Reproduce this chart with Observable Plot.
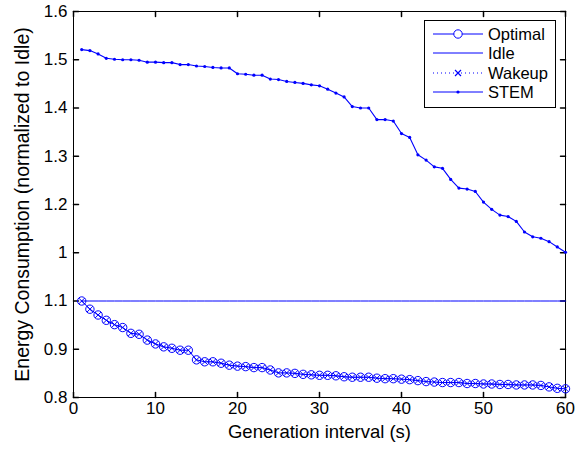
<!DOCTYPE html>
<html>
<head>
<meta charset="utf-8">
<script src="https://cdn.jsdelivr.net/npm/d3@7"></script>
<script src="https://cdn.jsdelivr.net/npm/@observablehq/plot@0.6"></script>
<style>
  html, body { margin: 0; padding: 0; background: #fff; }
  #wrap { position: relative; width: 586px; height: 450px; font-family: "Liberation Sans", Arial, sans-serif; }
  #legend { position: absolute; left: 424px; top: 20px; }
</style>
</head>
<body>
<div id="wrap"></div>
<script>
const genInterval = [1,2,3,4,5,6,7,8,9,10,11,12,13,14,15,16,17,18,19,20,21,22,23,24,25,26,27,28,29,30,
  31,32,33,34,35,36,37,38,39,40,41,42,43,44,45,46,47,48,49,50,51,52,53,54,55,56,57,58,59,60];

const optimal = [1.000,0.983,0.971,0.960,0.951,0.945,0.933,0.931,0.919,0.911,
  0.905,0.902,0.898,0.898,0.878,0.874,0.874,0.871,0.867,0.865,
  0.864,0.862,0.862,0.857,0.851,0.851,0.850,0.848,0.847,0.846,
  0.846,0.845,0.843,0.842,0.842,0.842,0.840,0.839,0.839,0.838,
  0.837,0.835,0.833,0.832,0.831,0.831,0.831,0.829,0.829,0.828,
  0.828,0.827,0.827,0.826,0.826,0.826,0.825,0.822,0.819,0.818];

const wakeup = [1.000,0.983,0.971,0.960,0.951,0.945,0.933,0.931,0.919,0.911,
  0.905,0.902,0.898,0.898,0.878,0.874,0.874,0.871,0.867,0.865,
  0.864,0.862,0.862,0.857,0.851,0.851,0.850,0.848,0.847,0.846,
  0.846,0.845,0.843,0.842,0.842,0.842,0.840,0.839,0.839,0.838,
  0.837,0.835,0.833,0.832,0.831,0.831,0.831,0.829,0.829,0.828,
  0.828,0.827,0.827,0.826,0.826,0.826,0.825,0.822,0.819,0.818];

const idle = [1,1,1,1,1,1,1,1,1,1, 1,1,1,1,1,1,1,1,1,1, 1,1,1,1,1,1,1,1,1,1,
  1,1,1,1,1,1,1,1,1,1, 1,1,1,1,1,1,1,1,1,1, 1,1,1,1,1,1,1,1,1,1];

const stem = [1.521,1.519,1.512,1.503,1.501,1.500,1.500,1.499,1.495,1.495,
  1.494,1.494,1.490,1.490,1.487,1.486,1.484,1.483,1.483,1.471,
  1.470,1.468,1.468,1.460,1.459,1.455,1.453,1.451,1.448,1.446,
  1.439,1.431,1.423,1.403,1.400,1.400,1.376,1.376,1.373,1.347,
  1.339,1.303,1.292,1.278,1.275,1.252,1.234,1.232,1.227,1.205,
  1.190,1.178,1.175,1.165,1.143,1.133,1.130,1.123,1.112,1.101];

const xTicks = [0,10,20,30,40,50,60];
const xTickLabels = ["0","10","20","30","40","50","60"];
const yTicks = [0.8,0.9,1.0,1.1,1.2,1.3,1.4,1.5,1.6];
const yTickLabels = ["0.8","0.9","1.1","1","1.2","1.3","1.4","1.5","1.6"];

const seriesNames = ["Optimal","Idle","Wakeup","STEM"];
const xLabel = "Generation interval (s)";
const yLabel = "Energy Consumption (normalized to Idle)";

const blue = "#0000ff";
const font = "'Liberation Sans', Arial, sans-serif";
const rows = (ys) => genInterval.map((x, i) => ({x, y: ys[i]}));
const tickShape = {draw(ctx, l) { ctx.moveTo(0, 0); ctx.lineTo(0, -l); }};

const chart = Plot.plot({
  width: 586,
  height: 450,
  marginLeft: 73,
  marginRight: 21,
  marginTop: 11,
  marginBottom: 53,
  style: {fontFamily: font, fontSize: "17px", color: "#000", background: "#fff"},
  x: {domain: [0, 60]},
  y: {domain: [0.8, 1.6]},
  marks: [
    Plot.frame({stroke: "#000", strokeWidth: 1}),
    // inward ticks on all four sides
    Plot.vector(xTicks, {x: d => d, y: 0.8, length: 5, rotate: 0, anchor: "start", shape: tickShape, stroke: "#000"}),
    Plot.vector(xTicks, {x: d => d, y: 1.6, length: 5, rotate: 180, anchor: "start", shape: tickShape, stroke: "#000"}),
    Plot.vector(yTicks, {x: 0, y: d => d, length: 5, rotate: 90, anchor: "start", shape: tickShape, stroke: "#000"}),
    Plot.vector(yTicks, {x: 60, y: d => d, length: 5, rotate: -90, anchor: "start", shape: tickShape, stroke: "#000"}),
    Plot.axisX(xTicks, {tickSize: 0, tickPadding: 4, tickFormat: (d, i) => xTickLabels[i], fontSize: 17, label: null}),
    Plot.axisY(yTicks, {tickSize: 0, tickPadding: 6, tickFormat: (d, i) => yTickLabels[i], fontSize: 17, label: null}),
    Plot.text([xLabel], {text: d => d, frameAnchor: "bottom", dy: 40, fontSize: 18.5, fill: "#000"}),
    Plot.text([yLabel], {text: d => d, frameAnchor: "left", textAnchor: "middle", rotate: -90, dx: -51, fontSize: 19.5, fill: "#000"}),
    // Idle
    Plot.line(rows(idle), {x: "x", y: "y", stroke: blue, strokeWidth: 1}),
    // STEM
    Plot.line(rows(stem), {x: "x", y: "y", stroke: blue, strokeWidth: 1.1}),
    Plot.dot(rows(stem), {x: "x", y: "y", r: 1.6, fill: blue, stroke: "none"}),
    // Wakeup (dotted, x markers)
    Plot.line(rows(wakeup), {x: "x", y: "y", stroke: blue, strokeWidth: 1, strokeDasharray: "1,3"}),
    // Optimal (solid, circles)
    Plot.line(rows(optimal), {x: "x", y: "y", stroke: blue, strokeWidth: 1}),
    Plot.dot(rows(optimal), {x: "x", y: "y", r: 4.2, stroke: blue, fill: "none", strokeWidth: 1}),
    Plot.dot(rows(wakeup), {x: "x", y: "y", r: 2.8, symbol: "times", stroke: blue, strokeWidth: 1})
  ]
});

const wrap = document.getElementById("wrap");
wrap.appendChild(chart);

// Legend
const lw = 131, lh = 87;
const leg = d3.select(wrap).append("svg").attr("id", "legend").attr("width", lw + 1).attr("height", lh + 1);
leg.append("rect").attr("x", 0.5).attr("y", 0.5).attr("width", lw).attr("height", lh)
  .attr("fill", "#fff").attr("stroke", "#000").attr("stroke-width", 1);
const rowY = [14, 33, 53, 72];
seriesNames.forEach((name, i) => {
  const g = leg.append("g").attr("transform", `translate(0,${rowY[i]})`);
  const ln = g.append("line").attr("x1", 9).attr("x2", 59).attr("y1", 0).attr("y2", 0)
    .attr("stroke", blue).attr("stroke-width", 1);
  if (name === "Wakeup") ln.attr("stroke-dasharray", "1,3");
  if (name === "Optimal") g.append("circle").attr("cx", 34).attr("cy", 0).attr("r", 4.2).attr("fill", "#fff").attr("stroke", blue);
  if (name === "Wakeup") g.append("path").attr("d", "M31,-3L37,3M31,3L37,-3").attr("stroke", blue).attr("stroke-width", 1.2);
  if (name === "STEM") g.append("circle").attr("cx", 34).attr("cy", 0).attr("r", 1.6).attr("fill", blue);
  g.append("text").attr("x", 64).attr("y", 0).attr("dy", "0.35em").attr("font-size", 16.5)
    .attr("font-family", font).attr("fill", "#000").text(name);
});
</script>
</body>
</html>
